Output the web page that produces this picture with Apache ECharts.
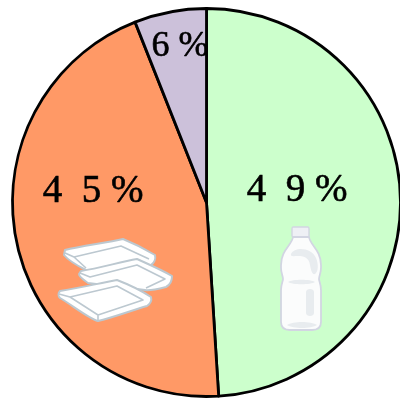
<!DOCTYPE html>
<html><head><meta charset="utf-8">
<style>html,body{margin:0;padding:0;background:#fff}#c{width:400px;height:402px}</style>
<script src="https://cdn.jsdelivr.net/npm/echarts@6/dist/echarts.min.js"></script>
</head><body><div id="c"></div>
<script>
const categories = ['PET bottles', 'Trays', 'Other'];
const values = [49, 45, 6];
const labelTexts = ['4  9 %', '4  5 %', '6 %'];
const colors = ['#ccffcc', '#ff9966', '#ccc1da'];
const labelSpots = [[297, 191], [93, 192], [180, 47]];
const fontSizes = [39, 39, 36];

const bottle = 'M293 237 C292 245 281 250 281 265 L281 268 C281 273 283 276 283 279 C283 281 281 284 281 290 L281 322 C281 328 285 330 290 330 L312 330 C317 330 321 328 321 322 L321 290 C321 284 319 281 319 279 C319 276 321 273 321 268 L321 265 C321 250 310 245 309 237 Z';
const shades = [
 'M291 254 C295 246 312 248 316 258 C319 265 318 272 315 274 C312 275 311 270 310 265 C309 257 303 256 298 256 C294 256 290 257 291 254 Z',
 'M288 282 C292 279 311 279 315 282 C311 285 292 285 288 282 Z',
 'M306 292 C306 288 314 288 314 292 L314 313 C314 317 306 317 306 313 Z',
 'M287 325 C293 321 311 321 317 325 C311 329 293 329 287 325 Z'
];
const cap = 'M293 227 L308 227 C309 227 309 228 309 229 L309 236 C309 237 308 237 307 237 L294 237 C293 237 292 237 292 236 L292 229 C292 228 292 227 293 227 Z';
const trays = [
 {o:'M65 250 C80 246 105 243 123 239 C133 243 145 249 155 255 C156 259 154 263 151 265 C130 268 105 272 86 270 C78 266 68 260 64 255 Z',
  i:'M65 253 L74 257 L121 246 L149 259 M74 257 L86 268'},
 {o:'M81 271 C100 268 120 262 137 259 C148 264 162 270 172 276 C172 281 170 285 166 287 C158 289 150 291 145 290 L88 283 C84 280 79 277 79 274 Z',
  i:'M80 273 L90 277 L137 265 L165 279 L146 288'},
 {o:'M60 291 C80 288 100 283 117 280 C130 285 142 291 151 297 C152 301 150 304 147 306 C130 311 112 318 98 321 C88 318 72 305 60 298 C58 296 58 293 60 291 Z',
  i:'M59 294 L70 297 L117 286 L143 300 L98 315 L98 321 M70 297 L98 315'}
];
function pathEl(d, fill, stroke, lw, z){
  return echarts.graphic.makePath(d, {style:{fill:fill, stroke:stroke, lineWidth:lw, lineJoin:'round'}, z:z, silent:true});
}
const chart = echarts.init(document.getElementById('c'), null, {renderer:'canvas'});
chart.setOption({
  animation:false,
  backgroundColor:'#ffffff',
  series:[{
    type:'pie',
    center:[206.5, 202.5],
    radius:[0, 194],
    startAngle:90,
    clockwise:true,
    avoidLabelOverlap:false,
    silent:true,
    itemStyle:{borderColor:'#000000', borderWidth:2.8},
    label:{show:true, position:'inside', color:'#000000', fontFamily:'"Liberation Serif", serif',
      textBorderColor:'#000000', textBorderWidth:0.6,
      formatter:p => labelTexts[p.dataIndex]},
    labelLine:{show:false},
    labelLayout:p => ({x:labelSpots[p.dataIndex][0], y:labelSpots[p.dataIndex][1], align:'center', verticalAlign:'middle'}),
    data:categories.map((n,i) => ({name:n, value:values[i], itemStyle:{color:colors[i]},
      label:{fontSize:fontSizes[i]}}))
  }]
});
const zr = chart.getZr();
trays.forEach((t,k) => {
  zr.add(pathEl(t.o, '#ffffff', '#bcc8d0', 2, 10+k*2));
  zr.add(pathEl(t.i, 'none', '#bcc8d0', 1.6, 11+k*2));
});
zr.add(pathEl(cap, '#eef0f5', '#d2d5e2', 1.4, 20));
zr.add(pathEl(bottle, '#fbfcfc', '#d2d5e2', 1.8, 20));
shades.forEach(s => zr.add(pathEl(s, '#e8ecef', 'none', 0, 21)));
</script></body></html>
